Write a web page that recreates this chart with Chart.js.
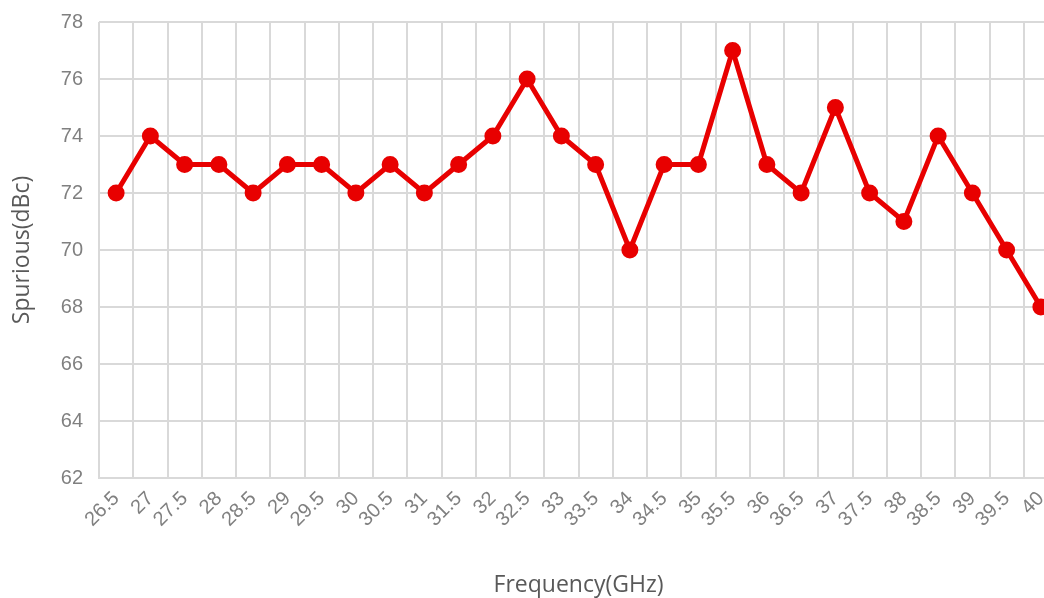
<!DOCTYPE html>
<html>
<head>
<meta charset="utf-8">
<script src="https://cdn.jsdelivr.net/npm/chart.js@4/dist/chart.umd.min.js"></script>
<style>
  html, body { margin: 0; padding: 0; background: #fff; overflow: hidden; }
  #wrap { width: 1044px; height: 598px; overflow: hidden; }
</style>
</head>
<body>
<div id="wrap"><canvas id="myChart" width="1069" height="598"></canvas></div>
<script>
const ctx = document.querySelector("#myChart");

// frequency points (GHz)
const freqs = ['26.5', '27', '27.5', '28', '28.5', '29', '29.5', '30', '30.5', '31',
  '31.5', '32', '32.5', '33', '33.5', '34', '34.5', '35', '35.5', '36',
  '36.5', '37', '37.5', '38', '38.5', '39', '39.5', '40'];

// spurious level (dBc)
const spurious = [72, 74, 73, 73, 72, 73, 73, 72, 73, 72,
  73, 74, 76, 74, 73, 70, 73, 73, 77, 73,
  72, 75, 72, 71, 74, 72, 70, 68];

const yMin = 62;
const yMax = 78;
const yStep = 2;

const gridColor = '#d9d9d9';
const tickColor = '#808080';
const titleColor = '#595959';

const config = {
  type: 'line',
  data: {
    labels: freqs,
    datasets: [
      {
        label: 'Spurious',
        data: spurious,
        borderColor: '#e80000',
        backgroundColor: '#e80000',
        borderWidth: 5,
        pointRadius: 6,
        pointHoverRadius: 6,
        tension: 0,
        fill: false,
        clip: false
      }
    ]
  },
  options: {
    responsive: false,
    animation: false,
    layout: { padding: { top: 22, right: 0, left: 0, bottom: 0 } },
    plugins: {
      legend: { display: false },
      tooltip: { enabled: false }
    },
    scales: {
      x: {
        offset: true,
        grid: { color: gridColor, lineWidth: 2, drawTicks: false, offset: true },
        border: { color: gridColor, width: 2 },
        ticks: {
          color: tickColor,
          font: { family: 'Liberation Sans', size: 20 },
          minRotation: 45,
          maxRotation: 45,
          autoSkip: false,
          padding: 9
        },
        title: {
          display: true,
          text: 'Frequency(GHz)',
          color: titleColor,
          font: { family: 'Open Sans', size: 23 },
          padding: { top: 0, bottom: -1 }
        },
        afterFit: (scale) => { scale.height = 120; }
      },
      y: {
        min: yMin,
        max: yMax,
        grid: { color: gridColor, lineWidth: 2, drawTicks: false },
        border: { display: false },
        ticks: {
          stepSize: yStep,
          color: tickColor,
          font: { family: 'Liberation Sans', size: 20 },
          padding: 16
        },
        title: {
          display: true,
          text: 'Spurious(dBc)',
          color: titleColor,
          font: { family: 'Open Sans', size: 23 },
          padding: { top: 9, bottom: 0 }
        },
        afterFit: (scale) => {
          scale.width = 99;
          scale.paddingTop = 0;
          scale.paddingBottom = 0;
        }
      }
    }
  }
};

const chart = new Chart(ctx, config);
</script>
</body>
</html>
